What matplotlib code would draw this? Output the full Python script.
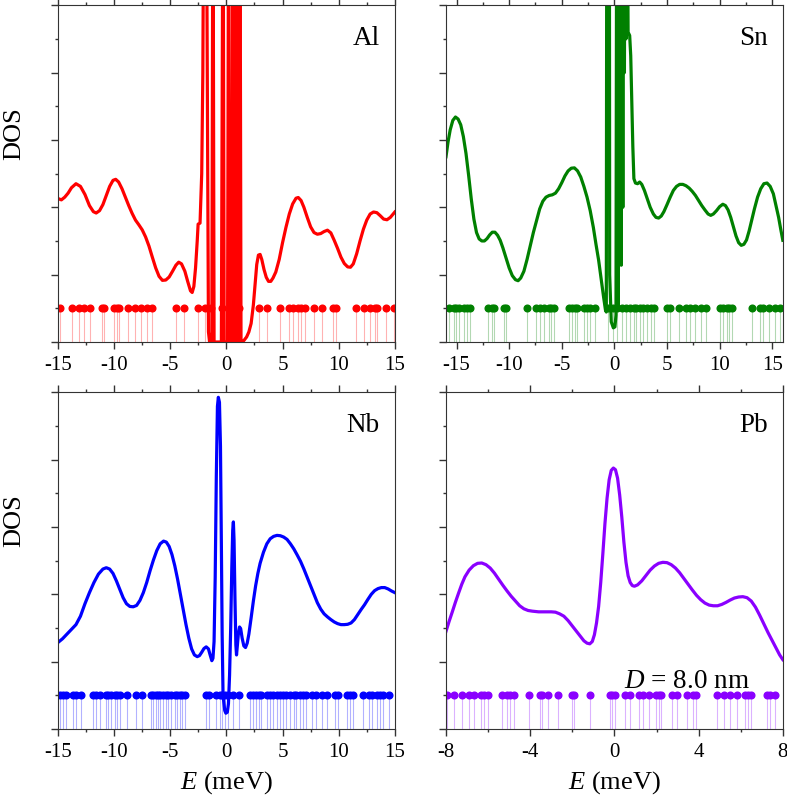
import numpy as np
import matplotlib
matplotlib.use("Agg")
import matplotlib.pyplot as plt
from matplotlib.ticker import MultipleLocator

plt.rcParams['font.family'] = ['Liberation Serif', 'DejaVu Serif']
plt.rcParams['mathtext.fontset'] = 'custom'
plt.rcParams['mathtext.rm'] = 'Liberation Serif'
plt.rcParams['mathtext.it'] = 'Liberation Serif:italic'
plt.rcParams['axes.unicode_minus'] = False

# ---- Al (top left) ----
al_x = [-15, -14.7, -14.4, -14.1, -13.8, -13.4, -13.0, -12.6, -12.2, -11.85, -11.6,
        -11.3, -11.0, -10.7, -10.4, -10.1, -9.86, -9.6, -9.3, -9.0, -8.7, -8.4, -8.1,
        -7.8, -7.5, -7.2, -6.9, -6.6, -6.3, -6.0, -5.7, -5.4, -5.1, -4.8, -4.5, -4.25,
        -4.0, -3.7, -3.45, -3.2, -3.05, -2.9, -2.75, -2.6, -2.52, -2.35, -2.2, -2.1,
        -2.0, -1.95, -1.8, -1.6, -1.5, -1.3, -1.2, -1.1, -0.45, -0.3, -0.2, 0.1, 0.2,
        0.3, 0.5, 0.58, 0.68, 0.78, 0.88, 0.98, 1.04, 1.1, 1.2, 1.3, 1.5, 1.8, 2.0,
        2.2, 2.4, 2.55, 2.7, 2.85, 3.0, 3.15, 3.35, 3.55, 3.75, 3.95, 4.15, 4.4, 4.7,
        5.0, 5.3, 5.6, 5.9, 6.2, 6.4, 6.65, 6.9, 7.2, 7.5, 7.8, 8.1, 8.4, 8.7, 9.0,
        9.3, 9.6, 9.9, 10.2, 10.5, 10.8, 11.05, 11.3, 11.6, 11.9, 12.2, 12.5, 12.8,
        13.1, 13.4, 13.7, 14.0, 14.3, 14.6, 15]
al_y = [4.26, 4.22, 4.3, 4.42, 4.58, 4.70, 4.62, 4.38, 4.05, 3.87, 3.83,
        3.9, 4.08, 4.35, 4.62, 4.8, 4.83, 4.75, 4.55, 4.3, 4.05, 3.82, 3.62,
        3.48, 3.33, 3.12, 2.85, 2.52, 2.2, 1.95, 1.83, 1.84, 1.93, 2.1, 2.28, 2.37,
        2.32, 2.1, 1.8, 1.52, 1.47, 1.65, 2.2, 3.0, 3.5, 3.53, 5.0, 8.0,
        15, 15, 15, 0.3, 0, 0, 15, 0, 0, 15, 0, 0, 15,
        0, 0, 15, 0, 15, 0, 15, 1.55, 0, 15, 0, 0.02, 0.15, 0.3,
        0.55, 1.1, 1.7, 2.3, 2.58, 2.6, 2.45, 2.15, 1.92, 1.8, 1.8, 1.9, 2.08, 2.45,
        2.95, 3.4, 3.8, 4.1, 4.27, 4.29, 4.2, 4.0, 3.7, 3.42, 3.25, 3.2, 3.22, 3.28, 3.32,
        3.24, 3.02, 2.78, 2.52, 2.33, 2.23, 2.22, 2.32, 2.62, 3.0, 3.35, 3.62, 3.8,
        3.86, 3.84, 3.75, 3.65, 3.63, 3.7, 3.86]
al_levels = [-14.79, -13.75, -13.16, -12.68, -12.18, -11.08, -10.9, -10.04, -9.74, -9.56,
             -8.76, -8.17, -7.57, -7.04, -6.59, -4.45, -3.77, -2.52, -1.93, -1.34,
             -0.39, 0.3, 0.68, 1.13, 2.88, 3.62, 4.81, 5.58, 5.94, 6.39, 6.68, 6.98,
             7.78, 8.52, 9.5, 9.74, 11.58, 12.24, 12.77, 13.22, 13.42, 14.17, 14.91]

# ---- Sn (top right) ----
sn_x = [-16, -15.8, -15.6, -15.35, -15.1, -14.85, -14.6, -14.35, -14.1, -13.85, -13.6,
        -13.35, -13.1, -12.85, -12.6, -12.35, -12.1, -11.85, -11.6, -11.35, -11.1,
        -10.85, -10.6, -10.3, -10.0, -9.7, -9.4, -9.15, -8.9, -8.6, -8.3, -8.0, -7.7,
        -7.4, -7.1, -6.8, -6.5, -6.2, -5.9, -5.6, -5.3, -5.0, -4.7, -4.4, -4.1, -3.8,
        -3.5, -3.2, -2.9, -2.6, -2.3, -2.0, -1.75, -1.5, -1.25, -1.03, -0.85, -0.77,
        -0.72, -0.48, -0.45, -0.3, -0.1, 0.05, 0.15, 0.22, 0.3, 0.35, 0.42, 0.5, 0.55,
        0.65, 0.72, 0.8, 0.88, 0.95, 1.02, 1.1, 1.2, 1.3, 1.45, 1.55, 1.65, 1.75, 1.85,
        2.0, 2.2, 2.4, 2.6, 2.85, 3.1, 3.4, 3.7, 3.95, 4.2, 4.45, 4.7, 5.0, 5.3, 5.6,
        5.9, 6.2, 6.5, 6.8, 7.1, 7.4, 7.7, 8.0, 8.3, 8.6, 8.9, 9.15, 9.4, 9.7, 10.0,
        10.3, 10.55, 10.8, 11.05, 11.3, 11.55, 11.8, 12.05, 12.3, 12.55, 12.8, 13.05,
        13.3, 13.6, 13.9, 14.2, 14.5, 14.8, 15.1, 15.35, 15.6, 15.8, 16]
sn_y = [5.5, 5.95, 6.3, 6.58, 6.68, 6.62, 6.45, 6.1, 5.6, 4.95, 4.25,
        3.65, 3.25, 3.06, 3.0, 3.0, 3.07, 3.18, 3.26, 3.26, 3.17,
        3.02, 2.8, 2.5, 2.2, 1.97, 1.85, 1.82, 1.9, 2.1, 2.45, 2.85, 3.25,
        3.6, 3.95, 4.18, 4.3, 4.35, 4.37, 4.42, 4.55, 4.73, 4.93, 5.08, 5.16, 5.17,
        5.08, 4.9, 4.62, 4.3, 3.9, 3.4, 2.9, 2.43, 1.85, 1.34, 0.95, 0.89,
        15, 15, 2.0, 0.6, 0.42, 0.45, 0.8, 15, 15, 1.0, 15, 5.99, 15,
        2.28, 15, 4.0, 15, 8.0, 15, 9.0, 15, 9.2, 9.1, 8.5, 7.2, 5.8, 4.85,
        4.72, 4.7, 4.75, 4.68, 4.5, 4.27, 4.0, 3.8, 3.7, 3.68, 3.74, 3.87, 4.08, 4.3, 4.5,
        4.62, 4.68, 4.68, 4.64, 4.57, 4.47, 4.35, 4.2, 4.05, 3.92, 3.8, 3.76, 3.8, 3.9, 4.02,
        4.09, 4.05, 3.92, 3.7, 3.42, 3.15, 2.95, 2.87, 2.9, 3.03, 3.3, 3.62,
        3.95, 4.3, 4.55, 4.7, 4.72, 4.62, 4.4, 4.05, 3.7, 3.35, 3.02]
sn_levels = [-15.74, -15.27, -15.02, -14.79, -14.32, -14.0, -13.75, -12.04, -11.63, -11.41,
             -10.46, -10.27, -8.31, -7.42, -7.04, -6.66, -6.25, -6.03, -5.71, -4.35,
             -4.03, -3.72, -3.56, -2.86, -2.61, -2.29, -1.82, -0.65, -0.14, 0.24, 0.71,
             1.12, 1.5, 1.82, 2.07, 2.39, 2.71, 3.09, 3.47, 3.78, 4.98, 5.3, 6.09, 6.82,
             7.14, 7.67, 8.21, 8.72, 10.05, 10.36, 10.68, 10.93, 11.16, 13.05, 13.84,
             14.16, 14.64, 15.27, 15.74]

# ---- Nb (bottom left) ----
nb_x = [-15, -14.6, -14.2, -13.8, -13.4, -13.0, -12.6, -12.2, -11.8, -11.4, -11.0,
        -10.7, -10.4, -10.1, -9.8, -9.5, -9.2, -8.9, -8.6, -8.3, -8.0, -7.7, -7.4,
        -7.1, -6.8, -6.5, -6.2, -5.9, -5.6, -5.35, -5.1, -4.85, -4.6, -4.35, -4.1,
        -3.85, -3.6, -3.35, -3.1, -2.85, -2.6, -2.4, -2.2, -2.0, -1.8, -1.6, -1.45,
        -1.3, -1.2, -1.1, -1.0, -0.9, -0.8, -0.72, -0.62, -0.53, -0.45, -0.38, -0.3,
        -0.15, -0.05, 0.08, 0.18, 0.28, 0.38, 0.48, 0.56, 0.62, 0.68, 0.76, 0.84, 0.9,
        0.98, 1.07, 1.17, 1.27, 1.4, 1.55, 1.7, 1.85, 2.0, 2.2, 2.4, 2.6, 2.8, 3.0,
        3.3, 3.6, 3.9, 4.2, 4.5, 4.8, 5.1, 5.4, 5.7, 6.0, 6.3, 6.6, 6.9, 7.2, 7.5,
        7.8, 8.1, 8.4, 8.7, 9.0, 9.3, 9.6, 9.9, 10.2, 10.5, 10.8, 11.1, 11.4, 11.7,
        12.0, 12.3, 12.6, 12.9, 13.2, 13.5, 13.8, 14.1, 14.4, 14.7, 15]
nb_y = [2.57, 2.68, 2.82, 2.96, 3.1, 3.35, 3.72, 4.05, 4.35, 4.6, 4.75,
        4.79, 4.75, 4.62, 4.4, 4.15, 3.9, 3.72, 3.64, 3.63, 3.67, 3.82, 4.05,
        4.35, 4.7, 5.02, 5.3, 5.5, 5.58, 5.55, 5.42, 5.18, 4.85, 4.45, 4.0,
        3.55, 3.1, 2.7, 2.38, 2.2, 2.15, 2.18, 2.28, 2.39, 2.44, 2.38, 2.2,
        2.03, 2.1, 2.6, 4.5, 7.5, 9.58, 9.85, 9.7, 8.4, 5.5, 2.8, 1.0,
        0.55, 0.47, 0.5, 0.75, 1.6, 3.0, 4.8, 5.9, 6.15, 5.6, 3.9, 2.5, 2.2,
        2.5, 2.85, 3.03, 2.98, 2.7, 2.47, 2.42, 2.55, 2.82, 3.3, 3.8, 4.25, 4.62, 4.92,
        5.25, 5.5, 5.65, 5.72, 5.75, 5.74, 5.7, 5.63, 5.5, 5.35, 5.17, 4.98, 4.75, 4.5, 4.25,
        4.0, 3.75, 3.56, 3.42, 3.33, 3.25, 3.18, 3.13, 3.1, 3.1, 3.11, 3.15, 3.25, 3.4,
        3.55, 3.69, 3.85, 4.0, 4.11, 4.17, 4.2, 4.2, 4.16, 4.1, 4.05]
nb_levels = [-14.79, -14.55, -14.32, -13.66, -13.42, -12.92, -11.88, -11.58, -11.29, -10.75,
             -10.54, -10.25, -9.95, -9.74, -9.5, -8.85, -8.02, -7.48, -6.74, -6.53, -6.3,
             -6.09, -5.88, -5.64, -5.41, -5.2, -4.9, -4.6, -4.4, -4.16, -3.92, -3.71,
             -1.84, -1.54, -0.89, -0.59, -0.36, -0.15, 0.15, 0.59, 1.13, 2.14, 2.38, 2.61,
             2.91, 3.12, 3.62, 3.86, 4.16, 4.51, 4.75, 5.05, 5.35, 5.64, 6.0, 6.24, 6.53,
             6.83, 7.13, 7.66, 8.02, 8.55, 8.97, 9.65, 9.95, 10.75, 10.99, 11.29, 12.12,
             12.71, 13.01, 13.37, 13.66, 13.96, 14.49]

# ---- Pb (bottom right) ----
pb_x = [-8, -7.85, -7.7, -7.55, -7.4, -7.25, -7.1, -6.9, -6.7, -6.5, -6.3, -6.1, -5.9,
        -5.7, -5.5, -5.3, -5.1, -4.9, -4.7, -4.5, -4.3, -4.1, -3.9, -3.6, -3.3, -3.0,
        -2.8, -2.6, -2.4, -2.2, -2.0, -1.8, -1.6, -1.45, -1.3, -1.17, -1.05, -0.95,
        -0.85, -0.75, -0.65, -0.55, -0.45, -0.35, -0.25, -0.15, -0.05, 0.05, 0.15, 0.25,
        0.35, 0.45, 0.55, 0.65, 0.75, 0.85, 0.95, 1.1, 1.3, 1.5, 1.7, 1.9, 2.1, 2.3,
        2.5, 2.7, 2.9, 3.1, 3.3, 3.5, 3.7, 3.9, 4.1, 4.3, 4.5, 4.7, 4.9, 5.1, 5.3,
        5.5, 5.7, 5.9, 6.1, 6.3, 6.5, 6.7, 6.9, 7.1, 7.3, 7.5, 7.7, 7.85, 8.0]
pb_y = [2.9, 3.2, 3.48, 3.77, 4.04, 4.3, 4.52, 4.72, 4.85, 4.92, 4.93, 4.88, 4.78,
        4.63, 4.45, 4.27, 4.1, 3.94, 3.8, 3.66, 3.57, 3.52, 3.5, 3.48, 3.48, 3.48,
        3.47, 3.42, 3.35, 3.22, 3.06, 2.9, 2.74, 2.62, 2.55, 2.53, 2.6, 2.8,
        3.15, 3.64, 4.35, 5.2, 6.1, 6.85, 7.4, 7.68, 7.75, 7.7, 7.45, 6.95,
        6.3, 5.55, 4.95, 4.55, 4.35, 4.26, 4.24, 4.28, 4.4, 4.56, 4.72, 4.84, 4.92, 4.95,
        4.94, 4.88, 4.78, 4.64, 4.47, 4.3, 4.13, 3.97, 3.84, 3.74, 3.68, 3.66, 3.66, 3.7, 3.76,
        3.83, 3.89, 3.92, 3.93, 3.9, 3.8, 3.62, 3.38, 3.12, 2.86, 2.62, 2.38, 2.2, 2.06]
pb_levels = [-7.95, -7.63, -7.24, -6.92, -6.65, -6.34, -6.21, -6.02, -5.34, -5.1, -4.98,
             -4.75, -4.07, -3.55, -3.44, -3.17, -2.68, -2.02, -1.91, -1.18, -0.2, -0.12,
             0.04, 0.51, 0.72, 1.15, 1.38, 1.65, 1.99, 2.1, 2.21, 2.73, 2.97, 3.47, 3.71,
             3.87, 4.87, 5.21, 5.47, 5.81, 6.21, 6.36, 6.48, 7.24, 7.4, 7.63]

panels = [
    ("Al", al_x, al_y, al_levels, "#ff0000", 15, 5, 2.5),
    ("Sn", sn_x, sn_y, sn_levels, "#008000", 16, 5, 2.5),
    ("Nb", nb_x, nb_y, nb_levels, "#0000ff", 15, 5, 2.5),
    ("Pb", pb_x, pb_y, pb_levels, "#8a00ff", 8, 4, 2),
]

fig = plt.figure(figsize=(7.87, 8.0), dpi=100)
rects = [
    [0.0737, 0.5725, 0.428, 0.421],
    [0.5667, 0.5725, 0.428, 0.421],
    [0.0737, 0.0887, 0.428, 0.421],
    [0.5667, 0.0887, 0.428, 0.421],
]

for i, (name, x, y, lev, col, lim, maj, mnr) in enumerate(panels):
    ax = fig.add_axes(rects[i])
    ax.vlines(lev, 0, 1, colors=col, alpha=0.3, lw=0.8)
    ax.plot(lev, np.ones(len(lev)), 'o', color=col, ms=4.8, mec=col)
    ax.plot(x, y, color=col, lw=2.3, solid_joinstyle='round')
    ax.set_xlim(-lim, lim)
    ax.set_ylim(0, 10)
    ax.xaxis.set_major_locator(MultipleLocator(maj))
    ax.xaxis.set_minor_locator(MultipleLocator(mnr))
    ax.yaxis.set_major_locator(MultipleLocator(2))
    ax.yaxis.set_minor_locator(MultipleLocator(1))
    ax.tick_params(which='both', direction='out', top=True, right=False,
                   labelleft=False, labelsize=15, color='#333333', pad=5)
    ax.tick_params(which='major', length=5, width=1)
    ax.tick_params(which='minor', length=2.5, width=1)
    for s in ax.spines.values():
        s.set_color('#333333')
    ax.text(0.955, 0.883, name, transform=ax.transAxes, ha='right', va='baseline',
            fontsize=19.5)
    if i >= 2:
        ax.set_xlabel("$E$ (meV)", fontsize=19)
        ax.xaxis.set_label_coords(0.5, -0.12)
    if i % 2 == 0:
        ax.set_ylabel("DOS", fontsize=19)
        ax.yaxis.set_label_coords(-0.098, 0.62)
    if name == "Pb":
        ax.text(0.902, 0.123, "$D$ = 8.0 nm", transform=ax.transAxes, ha='right',
                va='baseline', fontsize=19.5)

fig.savefig("out.png", dpi=100)
